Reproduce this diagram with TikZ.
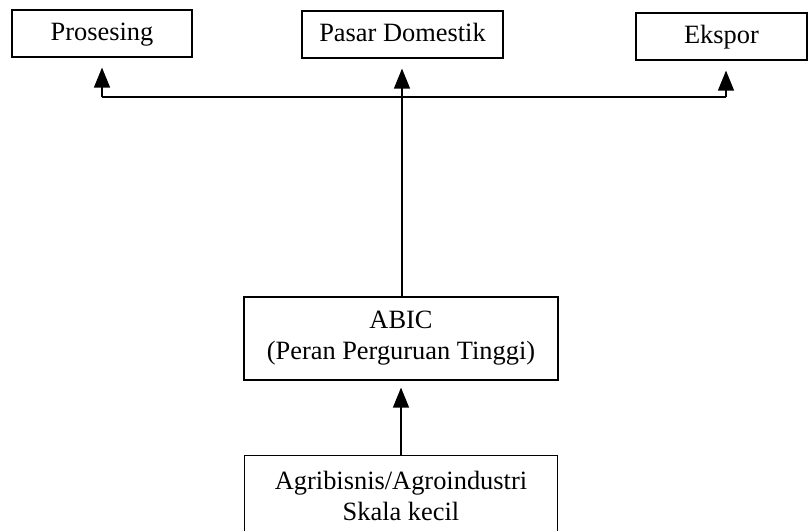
\documentclass[tikz,border=0pt]{standalone}
\usepackage{fontspec}
\setmainfont{Liberation Serif}
\usetikzlibrary{arrows.meta}
\usetikzlibrary{positioning}
\tikzset{kotak/.style = {draw, line width=0.6pt, align=center,
                         font=\fontsize{13.2}{15.5}\selectfont, inner sep=0pt},
         panah/.style = {-{Triangle[width=8pt,length=10pt]}, line width=0.7pt,
                         shorten >=5pt}}

\begin{document}
\begin{tikzpicture}[x=0.5pt, y=-0.5pt]
    \clip (0, 0) rectangle (808, 530);

    \node [kotak, minimum width=90pt, minimum height=23.5pt, text height=9.5pt, text depth=3pt] (prosesing) at (102, 33.5) {Prosesing};
    \node [kotak, minimum width=100.5pt, minimum height=23.5pt, text height=9.5pt, text depth=3pt] (pasar) at (402.5, 34.5) {Pasar Domestik};
    \node [kotak, minimum width=85.5pt, minimum height=23.5pt, text height=9.5pt, text depth=3pt] (ekspor) at (721.5, 36.5) {Ekspor};

    \node [kotak, minimum width=157pt, minimum height=41.5pt] (abic) at (401, 338.5) {ABIC\\(Peran Perguruan Tinggi)};
    \node [kotak, minimum width=156.5pt, minimum height=40pt] (agro) at (401, 495.5)
        {Agribisnis/Agroindustri\\Skala kecil};

    \coordinate (cabang) at (402, 97);
    \coordinate (kanan) at (726, 97);

    \draw [panah] (abic.north -| cabang) -- (pasar.south -| cabang);
    \draw [line width=0.7pt] (cabang -| prosesing.south) -- (kanan);
    \draw [panah] (cabang -| prosesing.south) -- (prosesing.south);
    \draw [panah] (kanan) -- (kanan |- ekspor.south);
    \draw [panah, shorten >=3.5pt] (agro.north) -- (agro.north |- abic.south);
  \end{tikzpicture}
\end{document}
